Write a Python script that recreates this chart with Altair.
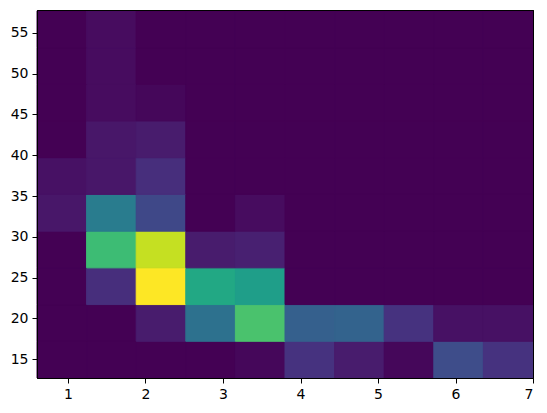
import altair as alt
import pandas as pd

# bin edges (10 x 10 grid)
x_edges = [0.6, 1.24, 1.88, 2.52, 3.16, 3.8, 4.44, 5.08, 5.72, 6.36, 7.0]
y_edges = [12.7, 17.2, 21.7, 26.2, 30.7, 35.2, 39.7, 44.2, 48.7, 53.2, 57.7]

# counts, one list per y-bin from bottom (row 0) to top (row 9), columns left to right
row0 = [0, 0, 0, 0, 1, 10, 5, 1, 16, 10]
row1 = [0, 0, 5, 26, 50, 21, 22, 10, 3, 3]
row2 = [0, 9, 70, 42, 39, 0, 0, 0, 0, 0]
row3 = [0, 48, 64, 5, 6, 0, 0, 0, 0, 0]
row4 = [4, 29, 15, 0, 2, 0, 0, 0, 0, 0]
row5 = [3, 4, 9, 0, 0, 0, 0, 0, 0, 0]
row6 = [0, 4, 5, 0, 0, 0, 0, 0, 0, 0]
row7 = [0, 2, 1, 0, 0, 0, 0, 0, 0, 0]
row8 = [0, 2, 0, 0, 0, 0, 0, 0, 0, 0]
row9 = [0, 2, 0, 0, 0, 0, 0, 0, 0, 0]
rows = [row0, row1, row2, row3, row4, row5, row6, row7, row8, row9]

x_ticks = [1, 2, 3, 4, 5, 6, 7]
y_ticks = [15, 20, 25, 30, 35, 40, 45, 50, 55]

records = []
for j, row in enumerate(rows):
    for i, c in enumerate(row):
        records.append({
            "x0": x_edges[i], "x1": x_edges[i + 1],
            "y0": y_edges[j], "y1": y_edges[j + 1],
            "count": c,
        })
df = pd.DataFrame(records)

axis_common = dict(
    grid=False, domainColor="black", tickColor="black", labelColor="black",
    labelFont="DejaVu Sans", labelFontSize=14, tickSize=5, labelPadding=4,
    title=None, domainWidth=1, tickWidth=1, zindex=1,
)
frame_axis = dict(
    grid=False, domainColor="black", domainWidth=1, ticks=False, labels=False,
    title=None, zindex=1,
)

color_scale = alt.Scale(scheme="viridis", domain=[0, 70])
x_scale = alt.Scale(domain=[0.6, 7.0], nice=False, zero=False)
y_scale = alt.Scale(domain=[12.7, 57.8], nice=False, zero=False)

cells = alt.Chart(df).mark_rect(strokeWidth=1).encode(
    x=alt.X("x0:Q", scale=x_scale,
            axis=alt.Axis(values=x_ticks, format="d", **axis_common)),
    x2="x1:Q",
    y=alt.Y("y0:Q", scale=y_scale,
            axis=alt.Axis(values=y_ticks, format="d", **axis_common)),
    y2="y1:Q",
    color=alt.Color("count:Q", scale=color_scale, legend=None),
    stroke=alt.Stroke("count:Q", scale=color_scale, legend=None),
)

frame = alt.Chart(df).mark_rect(opacity=0).encode(
    x=alt.X("x0:Q", scale=x_scale, axis=alt.Axis(orient="top", **frame_axis)),
    x2="x1:Q",
    y=alt.Y("y0:Q", scale=y_scale, axis=alt.Axis(orient="right", **frame_axis)),
    y2="y1:Q",
)

chart = alt.layer(cells, frame).resolve_axis(
    x="independent", y="independent"
).properties(
    width=496, height=368,
    autosize=alt.AutoSizeParams(type="none"),
    padding={"left": 29, "top": 2, "right": 2, "bottom": 24},
).configure_view(stroke="black", strokeWidth=1, fill="#440154")

chart.save("out.html", embed_options={"renderer": "svg", "actions": False})
